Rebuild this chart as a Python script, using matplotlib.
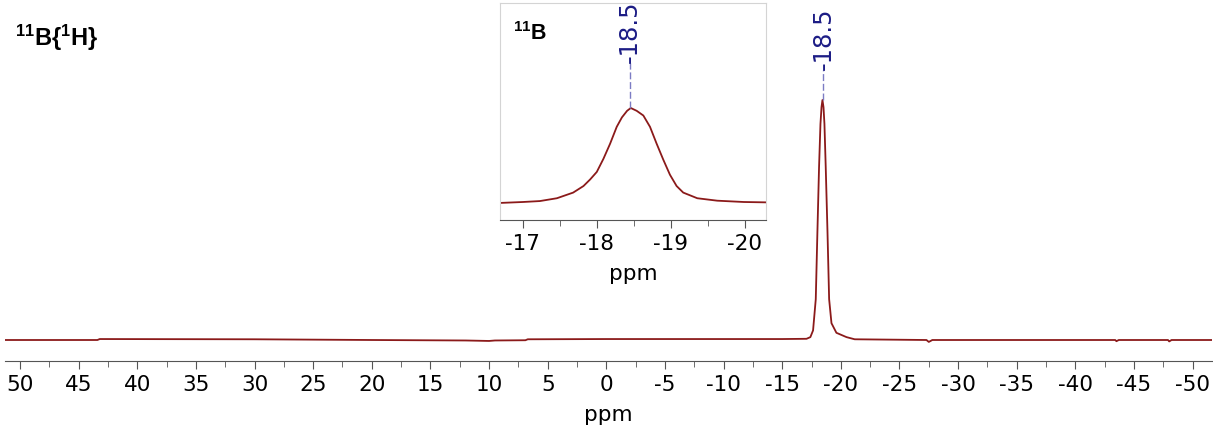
import matplotlib
matplotlib.use("Agg")
import matplotlib.pyplot as plt
from matplotlib.ticker import MultipleLocator

# main 11B{1H} spectrum (ppm, normalised intensity)
main_ppm = [51.3, 43.4, 43.2, 30.0, 20.0, 12.0, 10.0, 9.5, 6.9, 6.7, 0.0, -10.0, -15.0,
            -17.07, -17.4, -17.63, -17.86, -18.0, -18.14, -18.26, -18.35, -18.43, -18.52,
            -18.6, -18.71, -18.86, -19.0, -19.2, -19.62, -20.48, -21.18, -27.3, -27.5,
            -27.8, -43.4, -43.5, -43.7, -47.9, -48.0, -48.2, -51.7]
main_int = [0.0, 0.0, 0.004, 0.003, 0.0, -0.002, -0.004, -0.002, -0.001, 0.003, 0.004,
            0.004, 0.004, 0.005, 0.012, 0.04, 0.17, 0.45, 0.72, 0.90, 0.97, 1.0, 0.97,
            0.90, 0.72, 0.45, 0.17, 0.07, 0.03, 0.012, 0.003, 0.0, -0.008, 0.0, 0.0,
            -0.005, 0.0, 0.0, -0.006, 0.0, 0.0]

# inset: coupled 11B spectrum, zoomed
inset_ppm = [-16.69, -17.0, -17.23, -17.46, -17.68, -17.82, -17.91, -18.0, -18.09, -18.18,
             -18.27, -18.34, -18.41, -18.46, -18.54, -18.63, -18.72, -18.81, -18.90,
             -18.99, -19.08, -19.17, -19.36, -19.63, -19.99, -20.3]
inset_int = [-0.01, 0.0, 0.01, 0.04, 0.10, 0.17, 0.24, 0.32, 0.46, 0.62, 0.80, 0.90,
             0.97, 1.0, 0.97, 0.92, 0.80, 0.62, 0.45, 0.29, 0.17, 0.10, 0.04, 0.014,
             0.0, -0.004]

peak_ppm = -18.45
peak_label = "-18.5"
main_ticks = [50, 45, 40, 35, 30, 25, 20, 15, 10, 5, 0, -5, -10, -15, -20, -25, -30,
              -35, -40, -45, -50]
inset_ticks = [-17, -18, -19, -20]

line_col = "#8B1A1A"
label_col = "#1C1C85"
dash_col = "#7C7CC4"
axis_col = "#555555"

plt.rcParams["mathtext.fontset"] = "custom"
plt.rcParams["mathtext.rm"] = "Liberation Sans"
plt.rcParams["mathtext.bf"] = "Liberation Sans:bold"

W, H = 1213, 428
fig = plt.figure(figsize=(W / 100, H / 100), dpi=100)

# main axes
ax = fig.add_axes([5 / W, (H - 361) / H, 1207 / W, 361 / H])
ax.plot(main_ppm, main_int, color=line_col, lw=1.3)
ax.set_xlim(51.28, -51.65)
ax.set_ylim(-21 / 240, 340 / 240)
for s in ("top", "left", "right"):
    ax.spines[s].set_visible(False)
ax.spines["bottom"].set_color(axis_col)
ax.set_yticks([])
ax.set_xticks(main_ticks)
ax.set_xticklabels([str(t) for t in main_ticks])
ax.xaxis.set_minor_locator(MultipleLocator(2.5))
ax.tick_params(axis="x", which="major", length=6, color=axis_col, labelsize=15.5, pad=4)
ax.tick_params(axis="x", which="minor", length=4, color=axis_col)
ax.set_xlabel("ppm", fontsize=15.5, labelpad=7)
ax.patch.set_alpha(0)

# peak label on main spectrum
ax.plot([peak_ppm, peak_ppm], [1.0, 1.125], color=dash_col, lw=1, ls=(0, (5, 2)))
ax.text(-18.55, 1.125, peak_label, rotation=90, ha="center", va="bottom",
        color=label_col, fontsize=17.5)
fig.text(15 / W, 1 - 46 / H, r"$\mathbf{^{11}B\{^{1}H\}}$", fontsize=17,
         ha="left", va="baseline")

# inset axes
ins = fig.add_axes([500 / W, (H - 220) / H, 266 / W, 217 / H])
ins.plot(inset_ppm, inset_int, color=line_col, lw=1.3)
ins.set_xlim(-16.69, -20.29)
ins.set_ylim(-18 / 94, 199 / 94)
for s in ("top", "left", "right"):
    ins.spines[s].set_color("#d4d4d4")
ins.spines["bottom"].set_color(axis_col)
ins.set_yticks([])
ins.set_xticks(inset_ticks)
ins.set_xticklabels([str(t) for t in inset_ticks])
ins.xaxis.set_minor_locator(MultipleLocator(0.5))
ins.tick_params(axis="x", which="major", length=6, color=axis_col, labelsize=15.5, pad=4)
ins.tick_params(axis="x", which="minor", length=4, color=axis_col)
ins.set_xlabel("ppm", fontsize=15.5, labelpad=7)
ins.plot([peak_ppm, peak_ppm], [1.0, 1.48], color=dash_col, lw=1, ls=(0, (5, 2)))
ins.text(peak_ppm, 1.48, peak_label, rotation=90, ha="center", va="bottom",
         color=label_col, fontsize=17.5)
ins.text(13 / 266, 180 / 217, r"$\mathbf{^{11}B}$", transform=ins.transAxes,
         fontsize=15.5, ha="left", va="baseline")

fig.savefig("out.png", dpi=100)
plt.close()
